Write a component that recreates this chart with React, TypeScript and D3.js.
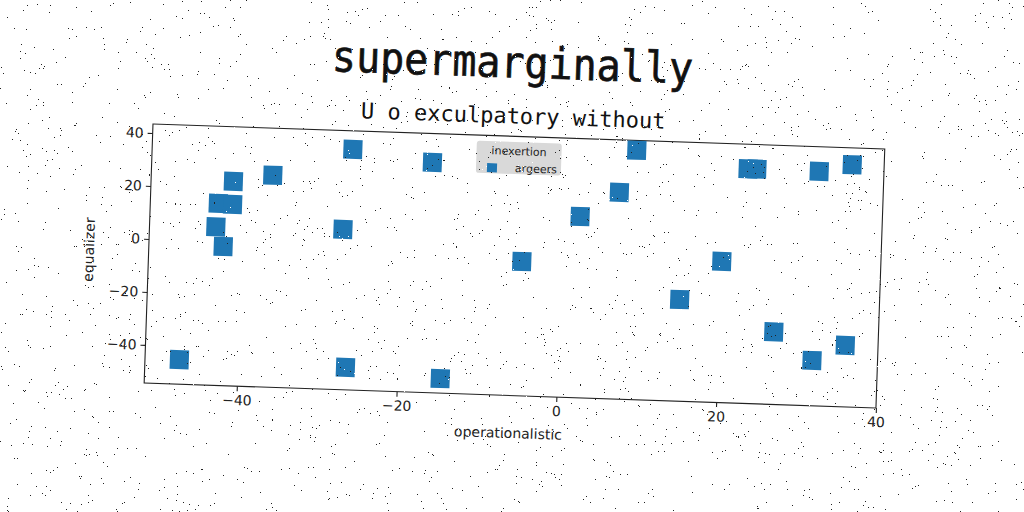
import * as d3 from "d3";
import { useEffect, useRef } from "react";

// values (data units)
const opValues = [-47.3, -36.4, -41.3, -43.1, -41.3, -43.3, -42.3, -27.4, -26.5, -26.5, -14.6, -16.5, -4.9, 2.2, 7.0, 9.0, 15.0, 20.1, 23.0, 24.1, 31.9, 36.0, 26.9, 35.9, 31.8];
const eqValues = [-45.1, 25.6, 22.8, 14.3, 14.1, 5.4, -1.9, 6.1, 36.4, -45.9, -48.9, 32.5, -3.7, 14.0, 23.6, 39.7, -16.0, -1.1, 34.1, 34.2, 34.1, 37.0, -27.0, -31.2, -37.3];
const xTicks = [-40, -20, 0, 20, 40];
const yTicks = [-40, -20, 0, 20, 40];
const xDomain = [-51.6, 40];
const yDomain = [-54.4, 43.4];

const title = "supermarginally";
const subtitle = "U o exculpatory without";
const xLabel = "operationalistic";
const yLabel = "equalizer";
const legendTitle = "inexertion";
const seriesName = "argeers";

const W = 1024;
const H = 512;
const BLUE = "#1f77b4";
const FONT = "'DejaVu Sans', sans-serif";
const MONO = "'DejaVu Sans Mono', monospace";

// speckle texture laid over the whole picture (not data)
function speckle(density: number, seed: number) {
    let s = seed >>> 0;
    const next = () => {
        s = (Math.imul(s, 1664525) + 1013904223) >>> 0;
        return s / 4294967296;
    };
    const n = Math.round(W * H * density);
    let d = "";
    for (let i = 0; i < n; i++) {
        const x = Math.floor(next() * W);
        const y = Math.floor(next() * H);
        d += `M${x} ${y}h1v1h-1z`;
    }
    return d;
}

const App = () => {
    const ref = useRef<SVGSVGElement>(null);

    useEffect(() => {
        document.body.style.margin = "0";
        if (!ref.current) return;
        const root = d3.select(ref.current);
        root.selectAll("*").remove();

        root.append("rect").attr("width", W).attr("height", H).attr("fill", "white");

        const fig = root.append("g").attr("transform", "rotate(1.95 512 256)");

        const margin = { left: 148.7, top: 136.3, right: 880.9, bottom: 395.5 };

        const x = d3.scaleLinear().domain(xDomain).range([margin.left, margin.right]);
        const y = d3.scaleLinear().domain(yDomain).range([margin.bottom, margin.top]);

        const fmt = (v: d3.NumberValue) => {
            const n = +v;
            return n < 0 ? `\u2212${Math.abs(n)}` : `${n}`;
        };

        // titles
        fig.append("text")
            .attr("x", 506)
            .attr("y", 77.5)
            .attr("text-anchor", "middle")
            .attr("transform", "translate(506,77.5) scale(1,1.08) translate(-506,-77.5)")
            .style("font-family", MONO)
            .style("font-size", "40px")
            .style("fill", "#111")
            .style("stroke", "#111")
            .style("stroke-width", 0.6)
            .text(title);

        fig.append("text")
            .attr("x", 508.5)
            .attr("y", 123.5)
            .attr("text-anchor", "middle")
            .style("font-family", MONO)
            .style("font-size", "22px")
            .style("fill", "#111")
            .text(subtitle);

        // axes
        const xAxis = fig.append("g")
            .attr("transform", `translate(0,${margin.bottom})`)
            .call(d3.axisBottom(x).tickValues(xTicks).tickFormat(fmt).tickSize(5).tickPadding(4));
        const yAxis = fig.append("g")
            .attr("transform", `translate(${margin.left},0)`)
            .call(d3.axisLeft(y).tickValues(yTicks).tickFormat(fmt).tickSize(5).tickPadding(4));

        for (const ax of [xAxis, yAxis]) {
            ax.select(".domain").remove();
            ax.selectAll(".tick line").attr("stroke", "#222").attr("stroke-width", 1.1);
            ax.selectAll(".tick text")
                .style("font-family", FONT)
                .style("font-size", "14px")
                .style("fill", "#222");
        }

        fig.append("rect")
            .attr("x", margin.left)
            .attr("y", margin.top)
            .attr("width", margin.right - margin.left)
            .attr("height", margin.bottom - margin.top)
            .attr("fill", "none")
            .attr("stroke", "#222")
            .attr("stroke-width", 1.1);

        fig.append("text")
            .attr("x", 514)
            .attr("y", 438)
            .attr("text-anchor", "middle")
            .style("font-family", FONT)
            .style("font-size", "14px")
            .style("fill", "#222")
            .text(xLabel);

        fig.append("text")
            .attr("transform", "translate(94,264) rotate(-90)")
            .attr("text-anchor", "middle")
            .style("font-family", FONT)
            .style("font-size", "14px")
            .style("fill", "#222")
            .text(yLabel);

        // markers
        const size = 19;
        fig.append("g")
            .selectAll("rect")
            .data(d3.range(opValues.length))
            .enter()
            .append("rect")
            .attr("x", (i) => x(opValues[i]) - size / 2)
            .attr("y", (i) => y(eqValues[i]) - size / 2)
            .attr("width", size)
            .attr("height", size)
            .attr("fill", BLUE);

        // legend
        const lg = fig.append("g");
        lg.append("rect")
            .attr("x", 473)
            .attr("y", 142)
            .attr("width", 85)
            .attr("height", 32)
            .attr("rx", 3)
            .attr("fill", "#d9d9d9");
        lg.append("text")
            .attr("x", 515.5)
            .attr("y", 155)
            .attr("text-anchor", "middle")
            .style("font-family", FONT)
            .style("font-size", "11px")
            .style("fill", "#222")
            .text(legendTitle);
        lg.append("rect")
            .attr("x", 484)
            .attr("y", 164)
            .attr("width", 10)
            .attr("height", 9)
            .attr("fill", BLUE);
        lg.append("text")
            .attr("x", 512)
            .attr("y", 172)
            .style("font-family", FONT)
            .style("font-size", "11px")
            .style("fill", "#222")
            .text(seriesName);

        // speckle noise on top
        root.append("path").attr("d", speckle(0.005, 7)).attr("fill", "#222");
        root.append("path").attr("d", speckle(0.005, 99)).attr("fill", "white");
    }, []);

    return <svg ref={ref} width={W} height={H} style={{ display: "block" }} />;
};

export default App;
